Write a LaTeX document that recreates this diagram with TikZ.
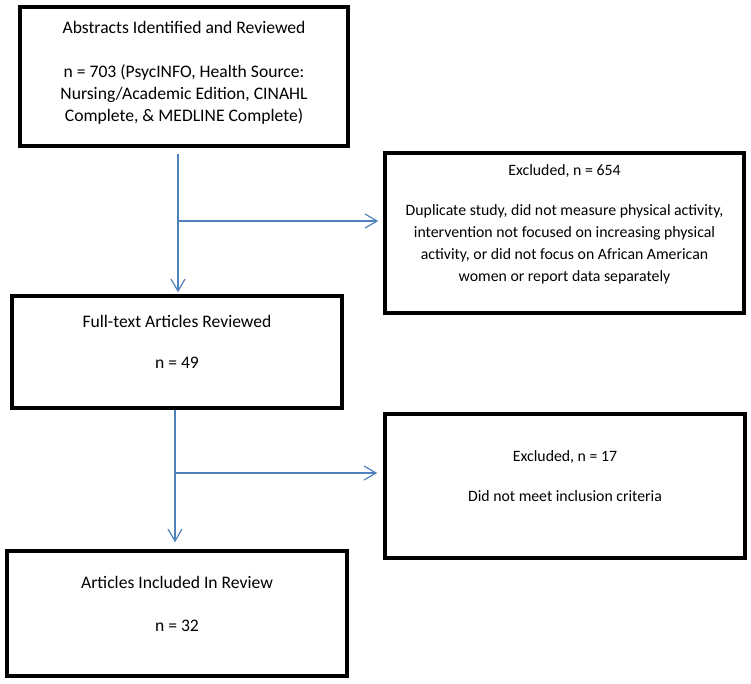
\documentclass[tikz,border=0pt]{standalone}
\usepackage{fontspec}
\setmainfont{Carlito}
\usetikzlibrary{arrows.meta}
\definecolor{wordblue}{RGB}{79,129,189}

\begin{document}
\begin{tikzpicture}[x=1pt,y=-1pt,
  box/.style={draw,line width=3.5pt,align=center,font=\fontsize{17.6}{22}\selectfont,text depth=20pt,inner sep=0pt},
  smallbox/.style={box,font=\fontsize{15.8}{22}\selectfont},
  flow/.style={draw=wordblue,line width=1.5pt,-{Straight Barb[length=12pt,width=14pt,line width=1.2pt]}}]
\useasboundingbox (0,0) rectangle (751,683);

\node[box,minimum width=328,minimum height=139,text depth=11pt] (abs) at (184,76.5)
  {Abstracts Identified and Reviewed\\[22pt]
   n = 703 (PsycINFO, Health Source:\\
   Nursing/Academic Edition, CINAHL\\
   Complete, \& MEDLINE Complete)};
\node[smallbox,minimum width=359,minimum height=160] (excl1) at (564.5,233)
  {Excluded, n = 654\\[18pt]
   Duplicate study, did not measure physical activity,\\
   intervention not focused on increasing physical\\
   activity, or did not focus on African American\\
   women or report data separately};
\node[box,minimum width=330,minimum height=112] (full) at (177,352)
  {Full-text Articles Reviewed\\[19pt]
   n = 49};
\node[smallbox,minimum width=360,minimum height=144] (excl2) at (565,486)
  {Excluded, n = 17\\[18pt]
   Did not meet inclusion criteria};
\node[box,minimum width=340,minimum height=125] (incl) at (177,613.5)
  {Articles Included In Review\\[21pt]
   n = 32};

\coordinate (j1) at (178,221);
\coordinate (j2) at (175,473);

\draw[flow] ([yshift=-6pt]abs.south -| j1) -- ([yshift=2pt]full.north -| j1);
\draw[flow] (j1) -- ([xshift=-5pt]excl1.west |- j1);
\draw[flow] (full.south -| j2) -- ([yshift=7pt]incl.north -| j2);
\draw[flow] (j2) -- ([xshift=-6pt]excl2.west |- j2);
\end{tikzpicture}
\end{document}
